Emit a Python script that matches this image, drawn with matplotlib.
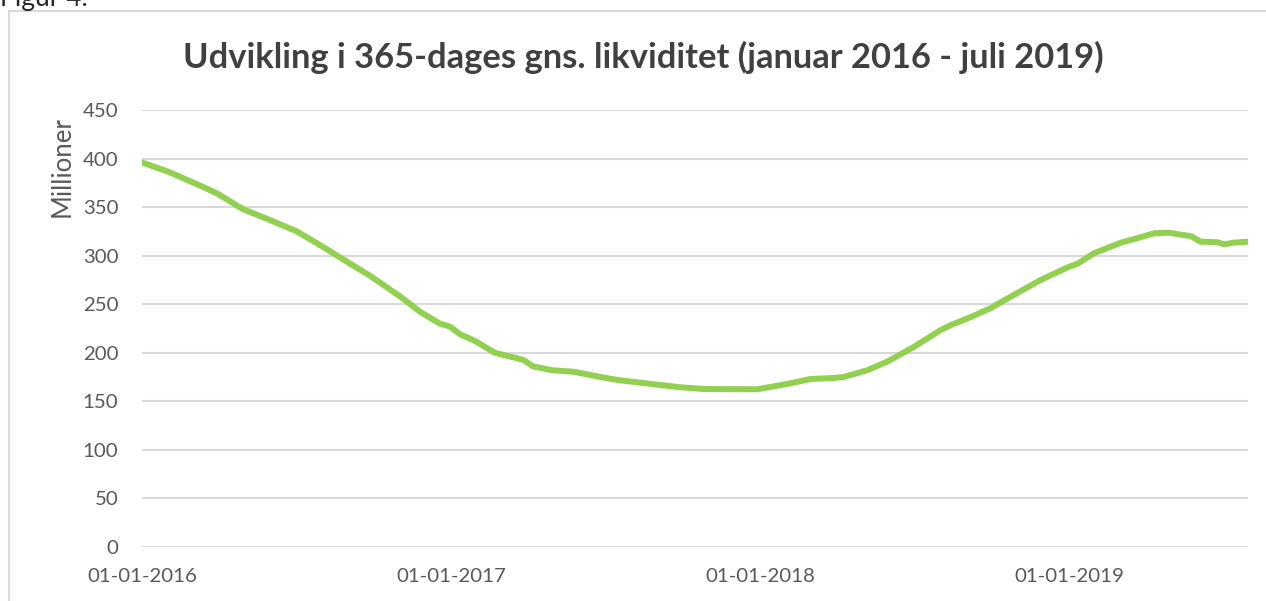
import matplotlib
matplotlib.use('Agg')
import matplotlib.pyplot as plt
import matplotlib.dates as mdates
from matplotlib.patches import Rectangle
import pandas as pd

# 365-day average liquidity (millions)
dates = ['2016-01-01', '2016-02-01', '2016-03-10', '2016-03-30', '2016-04-29', '2016-05-29',
         '2016-07-02', '2016-08-02', '2016-08-26', '2016-09-27', '2016-10-12', '2016-11-01',
         '2016-11-25', '2016-12-18', '2016-12-30', '2017-01-11', '2017-01-29', '2017-02-21',
         '2017-03-27', '2017-04-07', '2017-04-30', '2017-05-25', '2017-06-26', '2017-07-16',
         '2017-08-24', '2017-09-28', '2017-10-26', '2017-12-28', '2018-02-02', '2018-03-01',
         '2018-03-28', '2018-04-09', '2018-05-07', '2018-05-31', '2018-07-01', '2018-08-02',
         '2018-08-14', '2018-09-03', '2018-09-30', '2018-10-20', '2018-11-28', '2018-12-30',
         '2019-01-11', '2019-01-30', '2019-03-03', '2019-03-26', '2019-04-11', '2019-04-28',
         '2019-05-25', '2019-06-05', '2019-06-25', '2019-07-03', '2019-07-14', '2019-07-31']
values = [396, 386.5, 372, 364, 348, 337.5,
          325, 309, 296, 279, 270, 258,
          242, 230, 227, 219, 212, 200,
          192.6, 186, 182, 180.5, 175, 172,
          168, 164.5, 162.7, 162.4, 168, 173,
          174, 175, 182, 191, 206, 223.5,
          228.6, 235.5, 246, 256, 275, 288,
          292, 302.5, 313.4, 319, 323, 323.7,
          320, 314.4, 313.8, 311.7, 313.4, 314.4]

x_ticks = ['2016-01-01', '2017-01-01', '2018-01-01', '2019-01-01']
y_ticks = [0, 50, 100, 150, 200, 250, 300, 350, 400, 450]

df = pd.DataFrame({'date': pd.to_datetime(dates), 'value': values})

plt.rcParams['font.family'] = ['Lato', 'DejaVu Sans']

fig = plt.figure(figsize=(12.66, 6.01), dpi=100)
ax = fig.add_axes([142 / 1266, 1 - 547 / 601, (1248 - 142) / 1266, (547 - 110) / 601])

ax.plot(df['date'], df['value'], color='#92D050', linewidth=4.3, solid_capstyle='round')

ax.set_xlim(pd.Timestamp('2016-01-01'), pd.Timestamp('2019-07-31'))
ax.set_ylim(0, 450)
ax.set_yticks(y_ticks)
ax.set_xticks(pd.to_datetime(x_ticks))
ax.xaxis.set_major_formatter(mdates.DateFormatter('%d-%m-%Y'))

ax.grid(axis='y', color='#d9d9d9', linewidth=1.5)
ax.set_axisbelow(True)
for s in ax.spines.values():
    s.set_visible(False)
ax.tick_params(length=0, labelsize=14.7, labelcolor='#595959')
ax.tick_params(axis='y', pad=17)
ax.tick_params(axis='x', pad=15)

fig.text(0.5 * (183 + 1103) / 1266, 1 - 57 / 601,
         'Udvikling i 365-dages gns. likviditet (januar 2016 - juli 2019)',
         ha='center', va='center', fontsize=24.8, fontweight='bold', color='#404040')
fig.text(62 / 1266, 1 - 167 / 601, 'Millioner', rotation=90, ha='center', va='center',
         fontsize=18.5, color='#595959')
fig.text(0, 1 - 6 / 601, 'Figur 4.', ha='left', va='baseline', fontsize=19, color='#262626')

fig.patches.append(Rectangle((9 / 1266, -0.1), 1.2, 1 - 11 / 601 + 0.1, transform=fig.transFigure,
                             fill=False, edgecolor='#d9d9d9', linewidth=1.5))

fig.savefig('out.png', dpi=100)
